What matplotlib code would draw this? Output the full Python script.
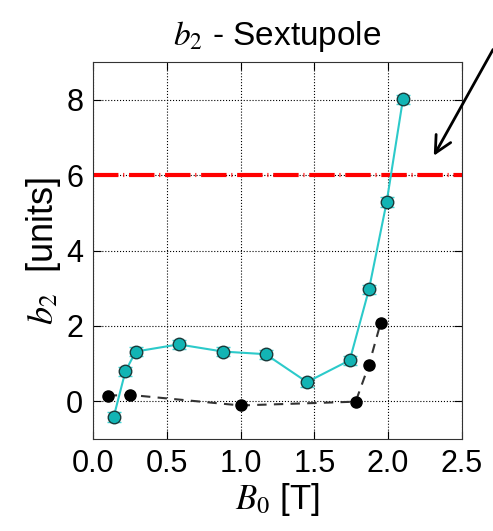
import matplotlib
matplotlib.use('Agg')
import matplotlib.pyplot as plt

# measured b2 vs field (cyan, with error bars)
b0_meas = [0.14, 0.22, 0.29, 0.58, 0.88, 1.17, 1.45, 1.74, 1.87, 1.99, 2.10]
b2_meas = [-0.42, 0.80, 1.32, 1.51, 1.32, 1.25, 0.51, 1.09, 2.97, 5.29, 8.01]
b2_err = [0.13, 0.12, 0.12, 0.12, 0.12, 0.12, 0.12, 0.12, 0.12, 0.13, 0.13]

# second series (black, dashed)
b0_calc = [0.10, 0.25, 1.00, 1.78, 1.87, 1.95]
b2_calc = [0.15, 0.17, -0.11, -0.01, 0.97, 2.09]

limit = 6

plt.rcParams['font.family'] = ['Liberation Sans', 'DejaVu Sans']
plt.rcParams['mathtext.fontset'] = 'stix'

fig = plt.figure(figsize=(4.93, 5.31), dpi=100)
ax = fig.add_axes([0.1886, 0.1733, 0.7484, 0.7097])

ax.axhline(limit, color='red', linestyle=(0, (6.1, 1.15, 0.25, 1.15)), linewidth=3, zorder=2)
ax.plot(b0_calc, b2_calc, '--', color='#333333', linewidth=1.5, dashes=(4.5, 3.5), zorder=3)
ax.plot(b0_calc, b2_calc, 'o', color='black', markersize=8, zorder=4)
ax.errorbar(b0_meas, b2_meas, yerr=b2_err, fmt='-o', color='#2ccaca', ecolor='#3fd6d6',
            mfc='#12b4b4', mec='#1a3a3a', markersize=9, linewidth=1.5, capsize=5,
            elinewidth=1.2, zorder=5)

ax.set_xlim(0, 2.5)
ax.set_ylim(-1, 9)
ax.set_xticks([0, 0.5, 1.0, 1.5, 2.0, 2.5])
ax.set_xticklabels(['0.0', '0.5', '1.0', '1.5', '2.0', '2.5'])
ax.set_yticks([0, 2, 4, 6, 8])
ax.tick_params(direction='in', labelsize=22, length=6, pad=7, top=True, right=True)
ax.grid(True, color='black', linestyle=':', linewidth=0.8)
for s in ax.spines.values():
    s.set_color('#333333')

ax.set_title(r'$b_2$ - Sextupole', fontsize=24, pad=12)
ax.set_xlabel(r'$B_0$ [T]', fontsize=25, labelpad=2)
ax.set_ylabel(r'$b_2$  [units]', fontsize=26, labelpad=2)

ax.annotate('', xy=(2.30, 6.45), xytext=(2.72, 9.4),
            arrowprops=dict(arrowstyle='->', color='black', lw=2, mutation_scale=30),
            annotation_clip=False)

plt.savefig('out.png', dpi=100)
